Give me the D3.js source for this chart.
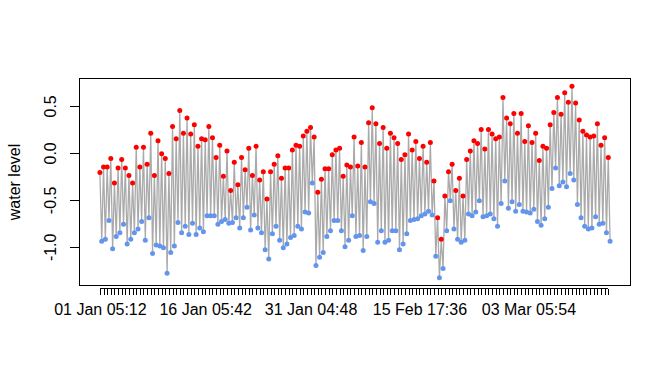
<!DOCTYPE html>
<html>
<head>
<meta charset="utf-8">
<script src="https://cdn.jsdelivr.net/npm/d3@7"></script>
<style>
  body { margin: 0; background: #fff; }
  svg text { font-family: "Liberation Sans", Arial, sans-serif; }
</style>
</head>
<body>
<svg id="chart" width="672" height="384"></svg>
<script>

// high waters (red) and low waters (blue), one pair per tide
var highWater = [
  -0.21,-0.15,-0.15,-0.06,-0.32,-0.16,-0.07,-0.16,-0.24,-0.32,
   0.06,-0.15, 0.06,-0.12, 0.21,-0.24, 0.13,-0.01,-0.06,-0.22,
   0.28, 0.15, 0.45, 0.21, 0.37, 0.20, 0.30, 0.07, 0.15, 0.14,
   0.28, 0.16,-0.05, 0.08,-0.25, 0.02,-0.40,-0.10,-0.34,-0.05,
  -0.18, 0.05,-0.24, 0.07,-0.29,-0.20,-0.49,-0.20,-0.12,-0.03,
  -0.27,-0.16,-0.16, 0.03, 0.08, 0.07, 0.18, 0.23, 0.27, 0.17,
  -0.42,-0.28,-0.17,-0.17,-0.02, 0.03, 0.05,-0.25,-0.13,-0.15,
   0.17,-0.14, 0.11,-0.15, 0.32, 0.48, 0.31, 0.10, 0.27, 0.05,
   0.21, 0.16, 0.10,-0.07,-0.02, 0.20, 0.03, 0.12,-0.06, 0.07,
  -0.10, 0.11,-0.30,-0.69,-0.92,-0.46,-0.20,-0.12,-0.40,-0.27,
  -0.46,-0.07, 0.02, 0.13, 0.10, 0.25, 0.04, 0.25, 0.20, 0.15,
   0.17, 0.59, 0.37, 0.31, 0.42, 0.21, 0.42, 0.12, 0.29, 0.11,
   0.21,-0.08, 0.07, 0.05, 0.30, 0.43, 0.59, 0.41, 0.64, 0.54,
   0.71, 0.53, 0.35, 0.23, 0.19, 0.17, 0.18, 0.31, 0.08, 0.16,
  -0.05
];

var lowWater = [
  -0.94,-0.92,-0.72,-1.02,-0.89,-0.85,-0.76,-0.97,-0.92,-0.85,
  -0.81,-0.73,-0.93,-0.69,-1.07,-0.98,-0.99,-1.01,-1.28,-1.06,
  -0.99,-0.74,-0.85,-0.78,-0.87,-0.75,-0.87,-0.80,-0.84,-0.67,
  -0.67,-0.67,-0.76,-0.73,-0.71,-0.75,-0.74,-0.69,-0.80,-0.69,
  -0.58,-0.82,-0.66,-0.80,-0.85,-1.03,-1.13,-0.86,-0.78,-0.93,
  -1.01,-0.97,-0.90,-0.88,-0.78,-0.81,-0.63,-0.64,-0.32,-1.20,
  -1.11,-1.06,-0.89,-0.83,-0.72,-0.72,-0.83,-1.00,-0.93,-0.67,
  -0.89,-0.88,-1.04,-0.89,-0.52,-0.54,-0.95,-0.83,-0.95,-0.93,
  -0.83,-0.83,-1.03,-0.97,-0.86,-0.72,-0.71,-0.70,-0.67,-0.65,
  -0.62,-0.66,-1.10,-1.33,-1.23,-0.83,-0.51,-0.81,-0.92,-0.95,
  -0.93,-0.65,-0.67,-0.63,-0.51,-0.68,-0.67,-0.65,-0.70,-0.78,
  -0.54,-0.30,-0.59,-0.52,-0.62,-0.55,-0.62,-0.63,-0.64,-0.60,
  -0.73,-0.77,-0.70,-0.58,-0.38,-0.16,-0.35,-0.31,-0.36,-0.22,
  -0.29,-0.55,-0.69,-0.78,-0.81,-0.80,-0.68,-0.76,-0.75,-0.85,
  -0.94
];

// x axis: a tick at every high water, only some get a label
var tickLabels = ["01 Jan 05:12", "16 Jan 05:42", "31 Jan 04:48", "15 Feb 17:36", "03 Mar 05:54"];
var tickLabelIdx = [0, 29, 58, 88, 118];

var yTicks = [-1.0, -0.5, 0.0, 0.5];

var box = {left: 79.5, right: 630.5, top: 78.5, bottom: 285.5};

var svg = d3.select("#chart");

// alternating series high, low, high, low... (low comes half a tide later)
var series = [];
highWater.forEach(function(h, i){
  series.push({t: i, v: h, kind: "high"});
  if(i < lowWater.length) series.push({t: i + 0.5, v: lowWater[i], kind: "low"});
});

// R style 4% padding on both scales
function padded(ext){
  var p = (ext[1] - ext[0]) * 0.04;
  return [ext[0] - p, ext[1] + p];
}

var x = d3.scaleLinear()
    .domain(padded(d3.extent(series, d => d.t)))
    .range([box.left, box.right]);

var y = d3.scaleLinear()
    .domain(padded(d3.extent(series, d => d.v)))
    .range([box.bottom, box.top]);

// grey line through all tides
var line = d3.line()
    .x(d => x(d.t))
    .y(d => y(d.v));

svg.append("path")
    .datum(series)
    .attr("d", line)
    .attr("fill", "none")
    .attr("stroke", "#aaaaaa")
    .attr("stroke-width", 1.3);

svg.append("g").selectAll("circle")
    .data(series.filter(d => d.kind == "low"))
    .enter()
    .append("circle")
    .attr("cx", d => x(d.t))
    .attr("cy", d => y(d.v))
    .attr("r", 2.5)
    .attr("fill", "#6495ed");

svg.append("g").selectAll("circle")
    .data(series.filter(d => d.kind == "high"))
    .enter()
    .append("circle")
    .attr("cx", d => x(d.t))
    .attr("cy", d => y(d.v))
    .attr("r", 2.5)
    .attr("fill", "#ff0000");

// frame
svg.append("rect")
    .attr("x", box.left)
    .attr("y", box.top)
    .attr("width", box.right - box.left)
    .attr("height", box.bottom - box.top)
    .attr("fill", "none")
    .attr("stroke", "#000")
    .attr("shape-rendering", "crispEdges");

// y axis -- R only draws the axis line between first and last tick
var yAxis = d3.axisLeft(y)
    .tickValues(yTicks)
    .tickSize(9.6)
    .tickSizeOuter(0)
    .tickPadding(0);

var gy = svg.append("g")
    .attr("transform", `translate(${box.left},0)`)
    .call(yAxis);
gy.select(".domain").remove();
gy.append("line")
    .attr("y1", y(d3.min(yTicks)))
    .attr("y2", y(d3.max(yTicks)))
    .attr("stroke", "#000")
    .attr("shape-rendering", "crispEdges");
gy.selectAll(".tick line").attr("stroke", "#000").attr("shape-rendering", "crispEdges");
gy.selectAll(".tick text")
    .text(d => d3.format(".1f")(d).replace("\u2212", "-"))
    .attr("transform", "rotate(-90)")
    .attr("x", 0)
    .attr("y", -24)
    .attr("dy", 0)
    .attr("text-anchor", "middle")
    .attr("font-size", 16)
    .attr("fill", "#000");

// x axis, drawn a little below the frame like the reference
var tickIdx = d3.range(highWater.length);
var xAxis = d3.axisBottom(x)
    .tickValues(tickIdx)
    .tickSize(6)
    .tickSizeOuter(0)
    .tickFormat(function(d){
      var k = tickLabelIdx.indexOf(d);
      return k >= 0 ? tickLabels[k] : "";
    });

var gx = svg.append("g")
    .attr("transform", `translate(0,${box.bottom + 3})`)
    .call(xAxis);
gx.select(".domain").remove();
gx.append("line")
    .attr("x1", x(tickIdx[0]))
    .attr("x2", x(tickIdx[tickIdx.length - 1]))
    .attr("stroke", "#000")
    .attr("shape-rendering", "crispEdges");
gx.selectAll(".tick line").attr("stroke", "#000").attr("shape-rendering", "crispEdges");
gx.selectAll(".tick text")
    .attr("y", 26)
    .attr("dy", 0)
    .attr("font-size", 16)
    .attr("fill", "#000");

// axis title
svg.append("text")
    .text("water level")
    .attr("transform", `translate(20,${(box.top + box.bottom) / 2}) rotate(-90)`)
    .attr("text-anchor", "middle")
    .attr("font-size", 16)
    .attr("fill", "#000");

</script>
</body>
</html>
